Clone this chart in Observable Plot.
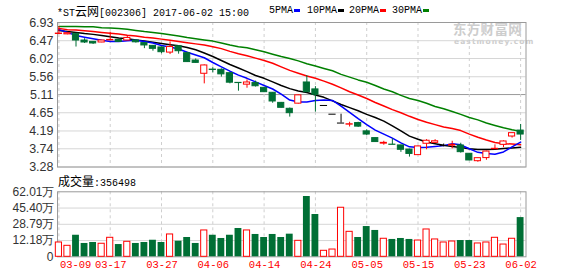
<!DOCTYPE html>
<html><head><meta charset="utf-8">
<script src="https://cdn.jsdelivr.net/npm/d3@7"></script>
<script src="https://cdn.jsdelivr.net/npm/@observablehq/plot@0.6"></script>
<style>
body{margin:0;background:#fff;}
#wrap{position:relative;width:578px;height:276px;overflow:hidden;}
#wrap svg{position:absolute;left:0;overflow:visible;}
.t{position:absolute;white-space:nowrap;font-family:"Liberation Mono",monospace;font-size:10px;line-height:10px;color:#000;}
.cjk{font-family:"Noto Sans CJK SC",sans-serif;font-size:12px;}
.sw{position:absolute;width:6px;height:3px;}
.wm{position:absolute;white-space:nowrap;color:#cdcdcd;font-family:"Noto Sans CJK SC",sans-serif;font-weight:bold;}
</style></head><body><div id="wrap"></div>
<script>
// ---- data ----
const dates = ["03-09","03-10","03-13","03-14","03-15","03-16","03-17","03-20","03-21","03-22",
  "03-23","03-24","03-27","03-28","03-29","03-30","03-31","04-05","04-06","04-07",
  "04-10","04-11","04-12","04-13","04-14","04-17","04-18","04-19","04-20","04-21",
  "04-24","04-27","04-28","05-02","05-03","05-04","05-05","05-08","05-09","05-10",
  "05-11","05-12","05-15","05-16","05-17","05-18","05-19","05-22","05-23","05-24",
  "05-25","05-26","05-31","06-01","06-02"];
const open = [6.64,6.63,6.645,6.475,6.44, 6.425,6.48,6.49,6.475,6.475,
  6.41,6.34,6.30,6.17,6.33, 6.155,5.97,5.635,5.74,5.735,
  5.65,5.405,5.36,5.40,5.28, 5.155,4.90,4.75,4.88,5.415,
  5.24,4.834,4.614,4.39,4.35, 4.39,4.18,4.01,3.87,3.845,
  3.825,3.72,3.58,3.867,3.89, 3.82,3.82,3.824,3.614,3.427,
  3.505,3.73,3.84,4.05,4.20];
const close = [6.65,6.66,6.475,6.425,6.40, 6.475,6.49,6.44,6.54,6.43,
  6.35,6.265,6.18,6.31,6.205, 5.93,5.91,5.845,5.73,5.62,
  5.41,5.40,5.415,5.32,5.17, 4.935,4.775,4.64,5.09,5.17,
  5.105,4.834,4.614,4.39,4.36, 4.30,4.10,3.91,3.89,3.84,
  3.715,3.61,3.80,3.943,3.93, 3.82,3.84,3.655,3.445,3.503,
  3.67,3.74,3.925,4.135,4.10];
const high = [6.83,6.67,6.65,6.52,6.45, 6.48,6.685,6.50,6.60,6.49,
  6.42,6.35,6.31,6.44,6.34, 6.18,6.01,5.86,5.79,5.76,
  5.66,5.41,5.48,5.45,5.29, 5.16,4.91,4.77,5.10,5.59,
  5.31,4.834,4.614,4.614,4.41, 4.41,4.22,4.01,3.93,3.99,
  3.83,3.73,3.81,3.97,3.97, 3.86,3.93,3.88,3.62,3.51,
  3.68,3.84,3.94,4.14,4.354];
const low = [6.625,6.62,6.31,6.40,6.375, 6.42,6.47,6.43,6.47,6.41,
  6.27,6.205,6.14,6.12,6.13, 5.92,5.90,5.38,5.66,5.55,
  5.38,5.195,5.27,5.30,5.16, 4.89,4.77,4.54,4.87,5.16,
  4.665,4.834,4.614,4.39,4.29, 4.28,4.07,3.91,3.83,3.84,
  3.65,3.53,3.57,3.715,3.88, 3.79,3.74,3.63,3.44,3.40,
  3.45,3.72,3.77,4.01,3.95];
// volume in 万
const volume = [10.2,6.8,17.6,9.2,10.2, 8.9,15.0,8.1,10.9,9.2,
  10.2,12.5,10.2,18.4,11.5, 15.3,9.2,22.5,17.6,14.3,
  17.6,24.5,22.5,18.4,15.3, 18.4,15.3,18.7,11.9,57.2,
  38.8,1.7,3.0,45.7,21.1, 15.3,26.5,22.5,14.0,13.3,
  14.3,13.3,12.2,23.5,13.3, 10.2,11.2,12.2,12.2,9.2,
  10.2,15.0,8.1,14.0,35.65];
const ma5 = [6.75,6.68,6.60,6.56,6.52, 6.48,6.45,6.45,6.47,6.48,
  6.45,6.41,6.35,6.31,6.26, 6.18,6.11,6.04,5.92,5.81,
  5.70,5.60,5.52,5.43,5.34, 5.25,5.12,4.97,4.92,4.92,
  4.96,4.97,4.96,4.82,4.66, 4.50,4.35,4.21,4.11,4.01,
  3.89,3.79,3.77,3.78,3.80, 3.82,3.87,3.84,3.74,3.65,
  3.62,3.60,3.66,3.79,3.91];
const ma10 = [6.73,6.70,6.68,6.65,6.63, 6.60,6.57,6.54,6.52,6.49,
  6.46,6.43,6.40,6.37,6.34, 6.30,6.24,6.16,6.07,5.97,
  5.87,5.78,5.69,5.59,5.52, 5.43,5.34,5.26,5.20,5.16,
  5.10,5.04,4.95,4.86,4.78, 4.70,4.61,4.53,4.44,4.32,
  4.19,4.06,3.98,3.91,3.87, 3.83,3.80,3.77,3.74,3.72,
  3.72,3.73,3.75,3.76,3.78];
const ma20 = [6.78,6.75,6.74,6.72,6.70, 6.68,6.66,6.64,6.61,6.59,
  6.56,6.54,6.51,6.48,6.45, 6.42,6.39,6.36,6.32,6.27,
  6.20,6.14,6.09,6.03,5.97, 5.90,5.81,5.72,5.65,5.58,
  5.52,5.45,5.37,5.28,5.18, 5.10,5.01,4.91,4.82,4.73,
  4.65,4.56,4.48,4.41,4.35, 4.29,4.25,4.20,4.11,4.03,
  3.96,3.90,3.87,3.86,3.84];
const ma30 = [6.83,6.83,6.83,6.82,6.82, 6.80,6.79,6.78,6.76,6.73,
  6.70,6.68,6.65,6.62,6.59, 6.55,6.52,6.49,6.46,6.41,
  6.36,6.32,6.29,6.24,6.19, 6.13,6.07,6.02,5.96,5.89,
  5.83,5.77,5.71,5.62,5.55, 5.48,5.42,5.34,5.25,5.18,
  5.09,5.01,4.96,4.89,4.81, 4.75,4.68,4.61,4.53,4.47,
  4.39,4.33,4.27,4.22,4.18];
const tickDates = ["03-09","03-17","03-27","04-06","04-14","04-24","05-05","05-15","05-23","06-02"];
const priceTicks = [6.93,6.47,6.02,5.56,5.11,4.65,4.19,3.74,3.28];
const priceMid = 5.11;
const volTicks = [62.01,45.40,28.79,12.18];
const volTickLabels = ["62.01万","45.40万","28.79万","12.18万"];
const volFloor = -4.43;          // value at the panel floor, labelled "0"
const volFloorLabel = "0";
const lastVolume = "356498";
const title = "[002306] 2017-06-02 15:00";
const maNames = ["5PMA","10PMA","20PMA","30PMA"];

// ---- styles ----
const RED = "#f00", GREEN = "#006f35";
const MA_COLORS = ["#0000ff","#000000","#ff0000","#008000"];
const GRID = "#d6d6d6", FRAME = "#9a9a9a";
const AX = "Liberation Sans, DejaVu Sans, sans-serif";
const MONO = "Liberation Mono, monospace";

const rows = dates.map((d,i)=>({i, d, o:open[i], c:close[i], h:high[i], l:low[i], v:volume[i]}));
const up = rows.filter(r=>r.c>r.o), down = rows.filter(r=>r.c<r.o), flat = rows.filter(r=>r.c===r.o);
const volUp = rows.filter(r=>r.c>=r.o), volDown = rows.filter(r=>r.c<r.o);
const tickIdx = tickDates.map(d=>dates.indexOf(d));
const xDomain = [-0.164, 54.63];
const W = 578, ML = 57, MR = 52.5;

const price = Plot.plot({
  width: W, height: 170, marginTop: 22, marginBottom: 3.5, marginLeft: ML, marginRight: MR,
  x: {type:"linear", domain: xDomain, axis: null},
  y: {type:"linear", domain: [3.28, 6.93], axis: null},
  style: {background:"transparent", overflow:"visible"},
  marks: [
    Plot.ruleY(priceTicks.filter(t=>t!==priceMid), {stroke: GRID}),
    Plot.ruleY([priceMid], {stroke: FRAME}),
    Plot.ruleX(tickIdx, {stroke: "#cfcfcf", strokeDasharray: "3,3"}),
    Plot.frame({stroke: FRAME}),
    Plot.text(priceTicks, {y: d=>d, text: d=>d.toFixed(2), frameAnchor:"left", textAnchor:"end", dx:-4,
      fontSize: 12.5, fontFamily: AX, fill:"#333"}),
    // MA lines
    Plot.line(rows, {x:"i", y: r=>ma30[r.i], stroke: MA_COLORS[3]}),
    Plot.line(rows, {x:"i", y: r=>ma20[r.i], stroke: MA_COLORS[2]}),
    Plot.line(rows, {x:"i", y: r=>ma10[r.i], stroke: MA_COLORS[1]}),
    Plot.line(rows, {x:"i", y: r=>ma5[r.i], stroke: MA_COLORS[0]}),
    // wicks
    Plot.ruleX(up, {x:"i", y1:"l", y2:"h", stroke: RED}),
    Plot.ruleX(down, {x:"i", y1:"l", y2:"h", stroke: GREEN}),
    Plot.ruleX(flat, {x:"i", y1:"l", y2:"h", stroke: "#000"}),
    // bodies
    Plot.rect(up, {x1: r=>r.i-0.36, x2: r=>r.i+0.36, y1:"o", y2:"c", fill:"#fff", stroke: RED}),
    Plot.rect(down, {x1: r=>r.i-0.36, x2: r=>r.i+0.36, y1:"o", y2:"c", fill: GREEN, stroke: GREEN}),
    Plot.ruleY(flat, {y:"c", x1: r=>r.i-0.42, x2: r=>r.i+0.42, stroke:"#000"})
  ]
});

const vol = Plot.plot({
  width: W, height: 108, marginTop: 23.3, marginBottom: 19.7, marginLeft: ML, marginRight: MR,
  x: {type:"linear", domain: xDomain, axis: null},
  y: {type:"linear", domain: [volFloor, volTicks[0]], axis: null},
  style: {background:"transparent", overflow:"visible"},
  marks: [
    Plot.ruleY(volTicks.slice(1), {stroke: GRID}),
    Plot.ruleX(tickIdx, {stroke: "#cfcfcf", strokeDasharray: "3,3"}),
    Plot.frame({stroke: FRAME}),
    Plot.rect(volUp, {x1: r=>r.i-0.36, x2: r=>r.i+0.36, y1: volFloor, y2:"v", fill:"#fff", stroke: RED}),
    Plot.rect(volDown, {x1: r=>r.i-0.4, x2: r=>r.i+0.4, y1: volFloor, y2:"v", fill: GREEN}),
    Plot.text(volTicks, {y: d=>d, text: (d,i)=>volTickLabels[i], frameAnchor:"left", textAnchor:"end", dx:-3,
      fontSize: 12, fontFamily: "Liberation Sans Narrow, Liberation Sans, sans-serif", fill:"#333"}),
    Plot.text([volFloor], {y: d=>d, text: ()=>volFloorLabel, frameAnchor:"left", textAnchor:"end", dx:-4,
      fontSize: 12, fontFamily: AX, fill:"#333"}),
    Plot.text(tickDates.slice(0,1), {x: d=>dates.indexOf(d), text: d=>d, frameAnchor:"bottom", textAnchor:"start",
      dx: 1, dy: 11, fill: RED, fontSize: 10.5, fontFamily: MONO}),
    Plot.text(tickDates.slice(1), {x: d=>dates.indexOf(d), text: d=>d, frameAnchor:"bottom",
      dx: 0.5, dy: 11, fill: RED, fontSize: 10.5, fontFamily: MONO})
  ]
});

const wrap = document.getElementById("wrap");
// watermark (behind the chart)
wrap.insertAdjacentHTML("beforeend",
  `<div class="wm" style="left:453px;top:21px;font-size:13.5px;line-height:14px;letter-spacing:0.3px">东方财富网</div>
   <div class="wm" style="left:454px;top:38px;font-size:7.5px;line-height:7px;letter-spacing:1.1px;font-family:'DejaVu Sans',sans-serif">eastmoney.com</div>`);
price.style.top = "0px";
vol.style.top = "168px";
wrap.appendChild(price);
wrap.appendChild(vol);
// header
wrap.insertAdjacentHTML("beforeend",
  `<div class="t" style="left:57px;top:6px">*ST<span class="cjk">云网</span>${title}</div>`);
const legendX = [269, 307, 349, 392];
maNames.forEach((n,k)=>{
  wrap.insertAdjacentHTML("beforeend",
    `<div class="t" style="left:${legendX[k]}px;top:6px">${n}</div>` +
    `<div class="sw" style="left:${legendX[k]+n.length*6+1}px;top:9px;background:${MA_COLORS[k]}"></div>`);
});
wrap.insertAdjacentHTML("beforeend",
  `<div class="t" style="left:58px;top:176px"><span class="cjk">成交量</span>:${lastVolume}</div>`);
</script></body></html>
